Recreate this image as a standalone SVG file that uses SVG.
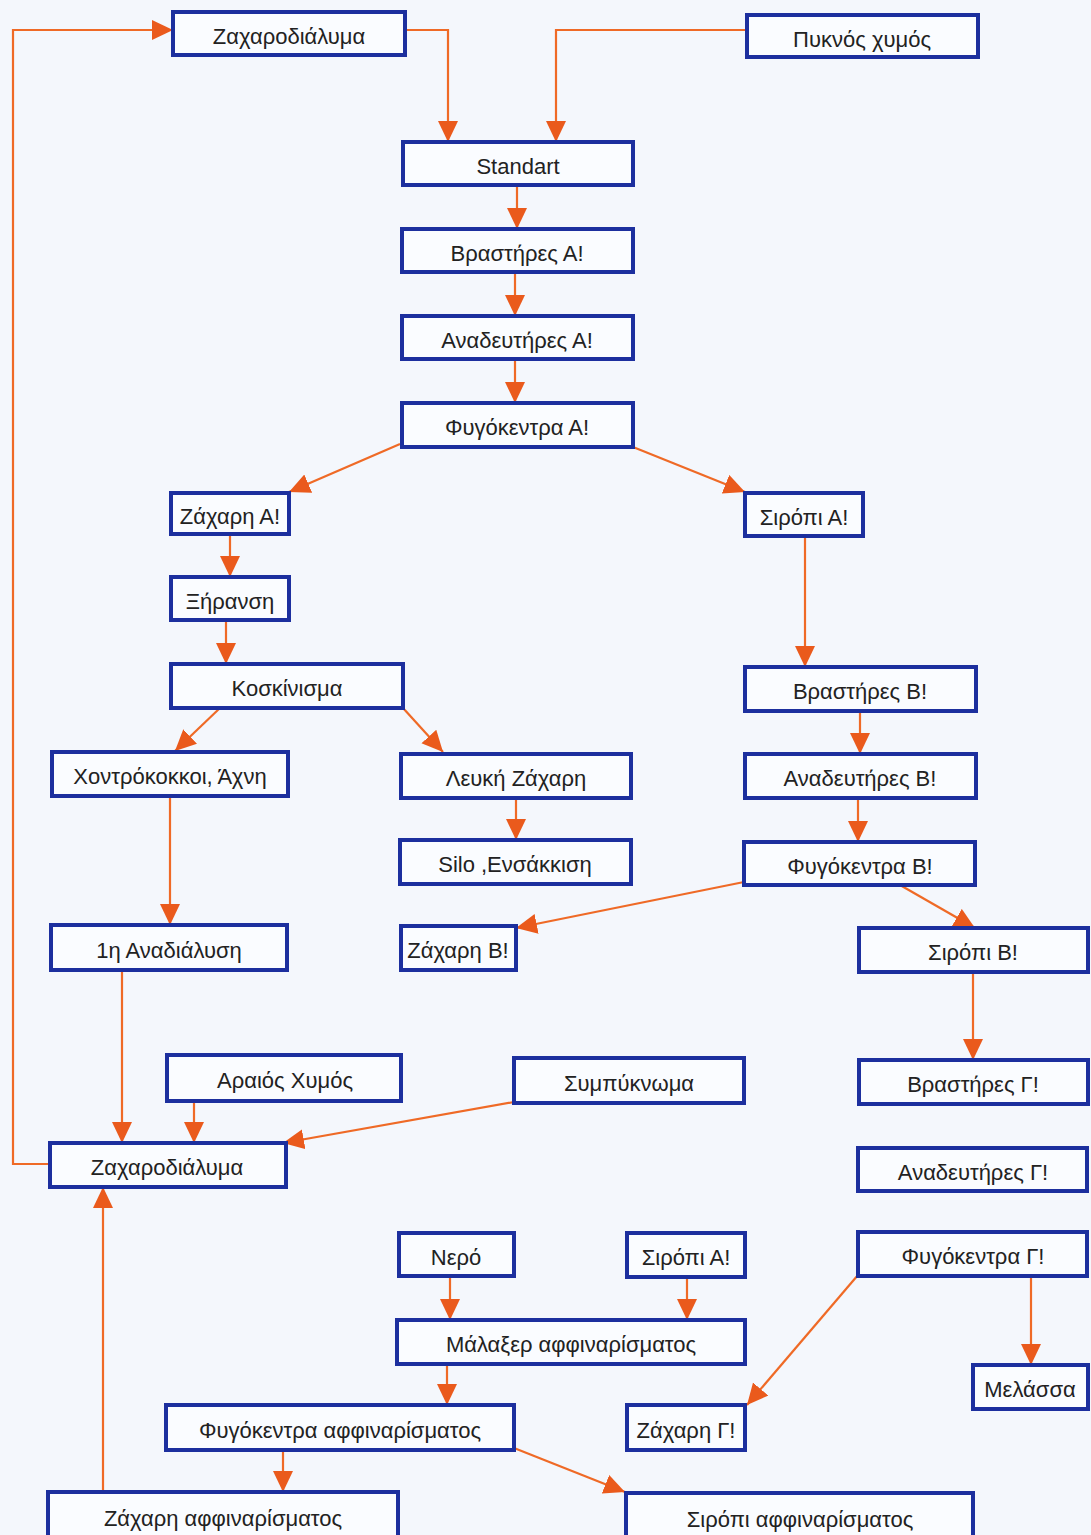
<svg xmlns="http://www.w3.org/2000/svg" width="1091" height="1535" viewBox="0 0 1091 1535">
<defs>
<marker id="ah" markerUnits="userSpaceOnUse" markerWidth="24" markerHeight="22" refX="21" refY="10" orient="auto">
<path d="M0,0 L21,10 L0,20 z" fill="#ea5a1c"/>
</marker>
<style>
.box rect{fill:#fafcff;stroke:#1c2f9e;stroke-width:4}
.box text{font-family:"Liberation Sans",Arial,sans-serif;font-size:22px;fill:#222;text-anchor:middle}
#connectors path{fill:none;stroke:#ef6a26;stroke-width:2.2;marker-end:url(#ah)}
</style>
</defs>
<rect width="1091" height="1535" fill="#f4f7fc"/>
<g id="connectors">
<path d="M50,1164 H13 V30 H173"/>
<path d="M405,30 H448 V142"/>
<path d="M747,30 H556 V142"/>
<path d="M517,185 V229"/>
<path d="M515,272 V316"/>
<path d="M515,359 V403"/>
<path d="M400,444 L289,492"/>
<path d="M633,447 L745,492"/>
<path d="M230,534 V577"/>
<path d="M226,620 V664"/>
<path d="M220,708 L175,751"/>
<path d="M403,708 L443,752"/>
<path d="M805,536 V667"/>
<path d="M860,711 V754"/>
<path d="M858,798 V842"/>
<path d="M516,798 V840"/>
<path d="M744,882 L516,928"/>
<path d="M900,885 L975,928"/>
<path d="M170,796 V925"/>
<path d="M973,972 V1060"/>
<path d="M122,970 V1143"/>
<path d="M194,1101 V1143"/>
<path d="M514,1102 L283,1143"/>
<path d="M103,1492 V1187"/>
<path d="M450,1276 V1320"/>
<path d="M687,1277 V1320"/>
<path d="M447,1364 V1405"/>
<path d="M283,1450 V1492"/>
<path d="M514,1448 L625,1492"/>
<path d="M858,1275 L747,1405"/>
<path d="M1031,1276 V1365"/>
</g>
<g id="n1" class="box"><rect x="173" y="12" width="232" height="43"/><text x="289" y="44">Ζαχαροδιάλυμα</text></g>
<g id="n2" class="box"><rect x="747" y="15" width="231" height="42"/><text x="862" y="47">Πυκνός χυμός</text></g>
<g id="n3" class="box"><rect x="403" y="142" width="230" height="43"/><text x="518" y="174">Standart</text></g>
<g id="n4" class="box"><rect x="402" y="229" width="231" height="43"/><text x="517" y="261">Βραστήρες Α!</text></g>
<g id="n5" class="box"><rect x="402" y="316" width="231" height="43"/><text x="517" y="348">Αναδευτήρες Α!</text></g>
<g id="n6" class="box"><rect x="402" y="403" width="231" height="44"/><text x="517" y="435">Φυγόκεντρα Α!</text></g>
<g id="n7" class="box"><rect x="171" y="493" width="118" height="41"/><text x="230" y="524">Ζάχαρη Α!</text></g>
<g id="n8" class="box"><rect x="745" y="493" width="118" height="43"/><text x="804" y="525">Σιρόπι Α!</text></g>
<g id="n9" class="box"><rect x="171" y="577" width="118" height="43"/><text x="230" y="609">Ξήρανση</text></g>
<g id="n10" class="box"><rect x="171" y="664" width="232" height="44"/><text x="287" y="696">Κοσκίνισμα</text></g>
<g id="n11" class="box"><rect x="745" y="667" width="231" height="44"/><text x="860" y="699">Βραστήρες Β!</text></g>
<g id="n12" class="box"><rect x="52" y="752" width="236" height="44"/><text x="170" y="784">Χοντρόκοκκοι, Άχνη</text></g>
<g id="n13" class="box"><rect x="401" y="754" width="230" height="44"/><text x="516" y="786">Λευκή Ζάχαρη</text></g>
<g id="n14" class="box"><rect x="745" y="754" width="231" height="44"/><text x="860" y="786">Αναδευτήρες Β!</text></g>
<g id="n15" class="box"><rect x="400" y="840" width="231" height="44"/><text x="515" y="872">Silo ,Ενσάκκιση</text></g>
<g id="n16" class="box"><rect x="744" y="842" width="231" height="43"/><text x="860" y="874">Φυγόκεντρα Β!</text></g>
<g id="n17" class="box"><rect x="51" y="925" width="236" height="45"/><text x="169" y="958">1η Αναδιάλυση</text></g>
<g id="n18" class="box"><rect x="401" y="926" width="115" height="44"/><text x="458" y="958">Ζάχαρη Β!</text></g>
<g id="n19" class="box"><rect x="859" y="928" width="229" height="44"/><text x="973" y="960">Σιρόπι Β!</text></g>
<g id="n20" class="box"><rect x="167" y="1055" width="234" height="46"/><text x="285" y="1088">Αραιός Χυμός</text></g>
<g id="n21" class="box"><rect x="514" y="1058" width="230" height="45"/><text x="629" y="1091">Συμπύκνωμα</text></g>
<g id="n22" class="box"><rect x="859" y="1060" width="229" height="44"/><text x="973" y="1092">Βραστήρες Γ!</text></g>
<g id="n23" class="box"><rect x="50" y="1143" width="236" height="44"/><text x="167" y="1175">Ζαχαροδιάλυμα</text></g>
<g id="n24" class="box"><rect x="858" y="1148" width="229" height="43"/><text x="973" y="1180">Αναδευτήρες Γ!</text></g>
<g id="n25" class="box"><rect x="399" y="1233" width="115" height="43"/><text x="456" y="1265">Νερό</text></g>
<g id="n26" class="box"><rect x="627" y="1233" width="118" height="44"/><text x="686" y="1265">Σιρόπι Α!</text></g>
<g id="n27" class="box"><rect x="858" y="1232" width="229" height="44"/><text x="973" y="1264">Φυγόκεντρα Γ!</text></g>
<g id="n28" class="box"><rect x="397" y="1320" width="348" height="44"/><text x="571" y="1352">Μάλαξερ αφφιναρίσματος</text></g>
<g id="n29" class="box"><rect x="973" y="1365" width="115" height="44"/><text x="1030" y="1397">Μελάσσα</text></g>
<g id="n30" class="box"><rect x="166" y="1405" width="348" height="45"/><text x="340" y="1438">Φυγόκεντρα αφφιναρίσματος</text></g>
<g id="n31" class="box"><rect x="627" y="1405" width="118" height="45"/><text x="686" y="1438">Ζάχαρη Γ!</text></g>
<g id="n32" class="box"><rect x="48" y="1492" width="350" height="48"/><text x="223" y="1526">Ζάχαρη αφφιναρίσματος</text></g>
<g id="n33" class="box"><rect x="626" y="1493" width="347" height="47"/><text x="800" y="1527">Σιρόπι αφφιναρίσματος</text></g>
</svg>
